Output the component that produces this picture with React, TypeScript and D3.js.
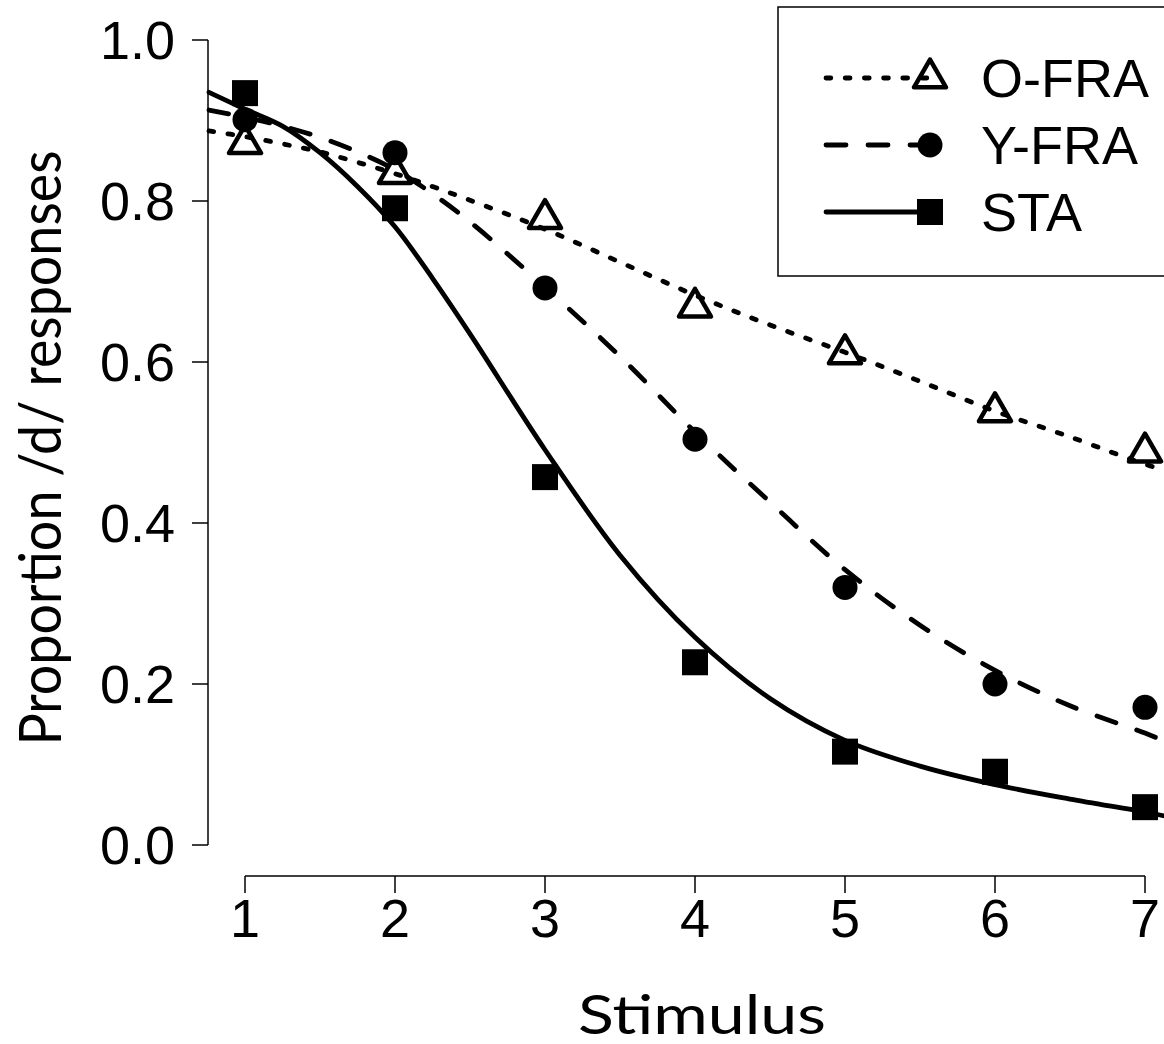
import React, { useEffect, useRef } from 'react';
import * as d3 from 'd3';

// observed proportions per stimulus step
const stimulus = [1, 2, 3, 4, 5, 6, 7];
const oFra = [0.871, 0.834, 0.778, 0.668, 0.61, 0.538, 0.488];
const yFra = [0.901, 0.86, 0.692, 0.504, 0.32, 0.2, 0.171];
const sta = [0.934, 0.791, 0.457, 0.227, 0.116, 0.091, 0.047];

// fitted curves
const fitStimulus = [0.76, 1, 1.25, 1.5, 1.75, 2, 2.25, 2.5, 3, 3.5, 4, 4.5, 5, 5.5, 6, 6.5, 7, 7.13];
const fitOFra = [0.887, 0.88, 0.871, 0.861, 0.848, 0.834, 0.818, 0.801, 0.765, 0.724, 0.683, 0.646, 0.612, 0.576, 0.539, 0.507, 0.473, 0.466];
const fitYFra = [0.913, 0.904, 0.893, 0.879, 0.861, 0.839, 0.809, 0.774, 0.693, 0.607, 0.513, 0.426, 0.342, 0.273, 0.217, 0.173, 0.139, 0.129];
const fitSta = [0.935, 0.914, 0.893, 0.86, 0.818, 0.768, 0.704, 0.635, 0.491, 0.36, 0.258, 0.182, 0.13, 0.098, 0.075, 0.057, 0.041, 0.036];

const yTicks = [0, 0.2, 0.4, 0.6, 0.8, 1.0];
const seriesNames = ['O-FRA', 'Y-FRA', 'STA'];
const xTitle = 'Stimulus';
const yTitle = 'Proportion /d/ responses';

const LW = 4.8;
const tickFont = '"Liberation Sans", Arial, sans-serif';
const titleFont = 'Lato, "Open Sans", sans-serif';

const series = [
  { name: seriesNames[0], pts: oFra, fit: fitOFra, dash: `${LW},${LW * 3}`, shape: 'triangle' },
  { name: seriesNames[1], pts: yFra, fit: fitYFra, dash: '20,22', shape: 'circle' },
  { name: seriesNames[2], pts: sta, fit: fitSta, dash: null, shape: 'square' },
];

function drawMarker(g, shape, cx, cy) {
  if (shape === 'triangle') {
    const r = 18.5;
    const pts = [[cx, cy - r], [cx + r * Math.sqrt(3) / 2, cy + r / 2], [cx - r * Math.sqrt(3) / 2, cy + r / 2]];
    g.append('path')
      .attr('d', 'M' + pts.map(p => p.join(',')).join('L') + 'Z')
      .attr('fill', 'none')
      .attr('stroke', 'black')
      .attr('stroke-width', 4.5)
      .attr('stroke-linejoin', 'round');
  } else if (shape === 'circle') {
    g.append('circle').attr('cx', cx).attr('cy', cy).attr('r', 12.5).attr('fill', 'black');
  } else {
    const s = 26;
    g.append('rect').attr('x', cx - s / 2).attr('y', cy - s / 2).attr('width', s).attr('height', s).attr('fill', 'black');
  }
}

const App = () => {
  const svgRef = useRef(null);

  useEffect(() => {
    const svg = d3.select(svgRef.current);
    svg.selectAll('*').remove();

    const x = d3.scaleLinear().domain([1, 7]).range([245, 1145]);
    const y = d3.scaleLinear().domain([0, 1]).range([845, 40]);

    // y axis
    const yAxis = svg.append('g');
    yAxis.append('line')
      .attr('x1', 208).attr('x2', 208)
      .attr('y1', y(1)).attr('y2', y(0))
      .attr('stroke', 'black').attr('stroke-width', 1.5);
    yTicks.forEach(t => {
      yAxis.append('line')
        .attr('x1', 192).attr('x2', 208)
        .attr('y1', y(t)).attr('y2', y(t))
        .attr('stroke', 'black').attr('stroke-width', 1.5);
      yAxis.append('text')
        .attr('x', 175).attr('y', y(t))
        .attr('text-anchor', 'end')
        .attr('dominant-baseline', 'central')
        .attr('font-family', tickFont)
        .attr('font-size', 54)
        .text(d3.format('.1f')(t));
    });

    // x axis
    const xAxis = svg.append('g');
    xAxis.append('line')
      .attr('x1', x(1)).attr('x2', x(7))
      .attr('y1', 876).attr('y2', 876)
      .attr('stroke', 'black').attr('stroke-width', 1.5);
    stimulus.forEach(t => {
      xAxis.append('line')
        .attr('x1', x(t)).attr('x2', x(t))
        .attr('y1', 876).attr('y2', 893)
        .attr('stroke', 'black').attr('stroke-width', 1.5);
      xAxis.append('text')
        .attr('x', x(t)).attr('y', 918)
        .attr('text-anchor', 'middle')
        .attr('dominant-baseline', 'central')
        .attr('font-family', tickFont)
        .attr('font-size', 54)
        .text(t);
    });

    // axis titles
    svg.append('text')
      .attr('x', 702).attr('y', 1034)
      .attr('text-anchor', 'middle')
      .attr('font-family', titleFont)
      .attr('font-size', 55)
      .attr('textLength', 248)
      .attr('lengthAdjust', 'spacingAndGlyphs')
      .text(xTitle);
    svg.append('text')
      .attr('transform', 'translate(61,448) rotate(-90)')
      .attr('text-anchor', 'middle')
      .attr('font-family', titleFont)
      .attr('font-size', 58)
      .attr('textLength', 595)
      .attr('lengthAdjust', 'spacingAndGlyphs')
      .text(yTitle);

    // fitted curves
    const line = d3.line()
      .x((d, i) => x(fitStimulus[i]))
      .y(d => y(d))
      .curve(d3.curveCatmullRom.alpha(0.5));
    series.forEach(s => {
      svg.append('path')
        .attr('d', line(s.fit))
        .attr('fill', 'none')
        .attr('stroke', 'black')
        .attr('stroke-width', LW)
        .attr('stroke-linecap', 'round')
        .attr('stroke-dasharray', s.dash);
    });

    // data points
    const pg = svg.append('g');
    series.forEach(s => {
      s.pts.forEach((v, i) => drawMarker(pg, s.shape, x(stimulus[i]), y(v)));
    });

    // legend
    const lg = svg.append('g');
    lg.append('rect')
      .attr('x', 778).attr('y', 7)
      .attr('width', 420).attr('height', 269)
      .attr('fill', 'white')
      .attr('stroke', 'black').attr('stroke-width', 1.5);
    series.forEach((s, i) => {
      const ly = 78 + i * 67;
      lg.append('line')
        .attr('x1', 826).attr('x2', 930)
        .attr('y1', ly).attr('y2', ly)
        .attr('stroke', 'black')
        .attr('stroke-width', LW)
        .attr('stroke-linecap', 'round')
        .attr('stroke-dasharray', s.dash);
      drawMarker(lg, s.shape, 930, ly);
      lg.append('text')
        .attr('x', 981).attr('y', ly)
        .attr('dominant-baseline', 'central')
        .attr('font-family', tickFont)
        .attr('font-size', 54)
        .text(s.name);
    });
  }, []);

  return (
    <svg
      ref={svgRef}
      width={1164}
      height={1044}
      style={{ position: 'absolute', left: 0, top: 0, background: 'white' }}
    />
  );
};

export default App;
